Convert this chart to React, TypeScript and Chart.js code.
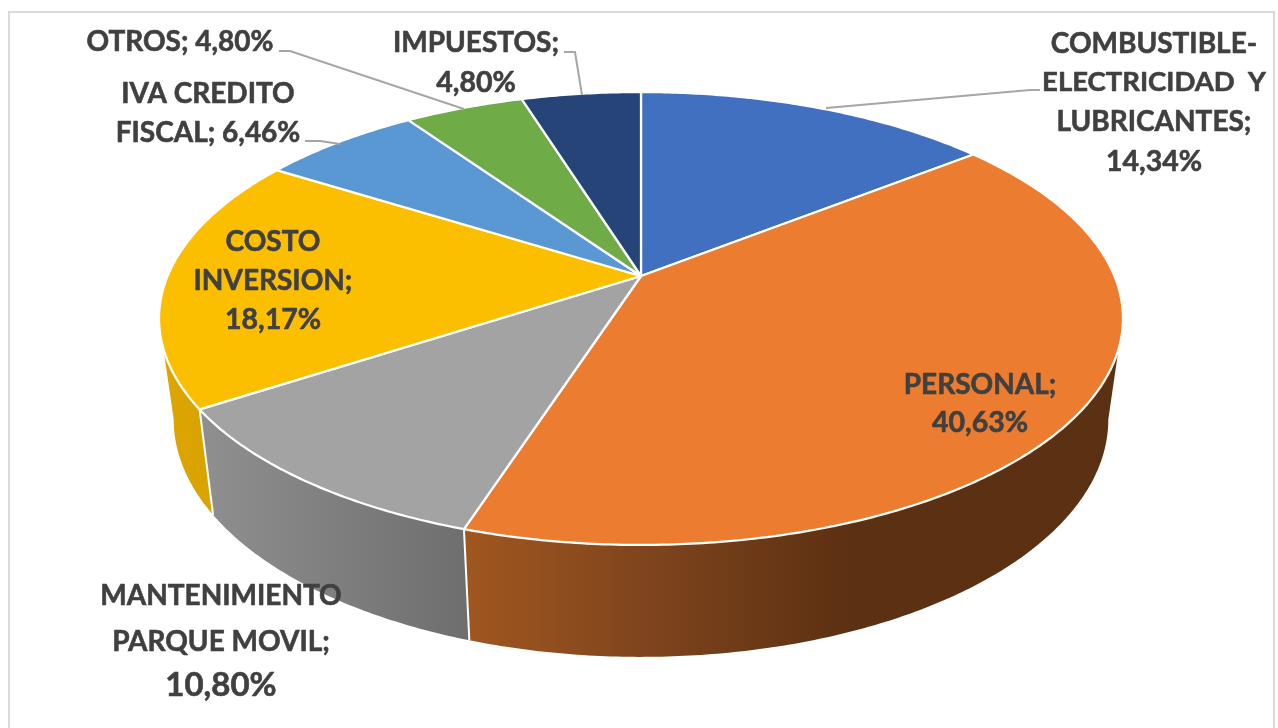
import React, { useEffect, useRef } from "react";
import { Chart, registerables } from "chart.js";

Chart.register(...registerables);

const categories = [
  "COMBUSTIBLE-ELECTRICIDAD  Y LUBRICANTES",
  "PERSONAL",
  "MANTENIMIENTO PARQUE MOVIL",
  "COSTO INVERSION",
  "IVA CREDITO FISCAL",
  "OTROS",
  "IMPUESTOS",
];
const shares = [14.34, 40.63, 10.8, 18.17, 6.46, 4.8, 4.8];
const topColors = ["#4270c0", "#eb7c30", "#a3a3a3", "#fcbf00", "#5a98d4", "#6fab46", "#264478"];

const labelLines = [
  ["COMBUSTIBLE-", "ELECTRICIDAD  Y", "LUBRICANTES;", "14,34%"],
  ["PERSONAL;", "40,63%"],
  ["MANTENIMIENTO", "PARQUE MOVIL;", "10,80%"],
  ["COSTO", "INVERSION;", "18,17%"],
  ["IVA CREDITO", "FISCAL; 6,46%"],
  ["OTROS; 4,80%"],
  ["IMPUESTOS;", "4,80%"],
];

// Layout (style only, not data)
const labelCenterX = [1154, 980, 221, 273, 208, 180, 476];
const labelLineY = [
  [43.5, 82.5, 121.5, 161.5],
  [384.5, 422.5],
  [595.5, 641.5, 685.5],
  [241.5, 280.5, 319.5],
  [93.5, 132.5],
  [41.5],
  [42.5, 82.5],
];
const labelFontSize = [
  [28, 27.5, 28, 28.5],
  [28, 28.5],
  [28, 28, 33],
  [28, 28, 28.5],
  [28, 28],
  [28],
  [28, 28.5],
];
const leaders = [
  [[1040, 90], [1030, 90], [826, 108]],
  [[564, 52], [575, 52], [582, 95]],
  [[279, 51], [290, 51], [464, 109]],
  [[305, 141], [320, 141], [340, 144]],
];
const wallStops: Record<number, [number, string][]> = {
  1: [[470, "#a0561f"], [640, "#80451d"], [850, "#5c3012"]],
  2: [[212, "#8e8e8e"], [470, "#6e6e6e"]],
  3: [[170, "#dca500"], [212, "#d9a300"]],
};

const FONT = "Lato";
const TOP = { cx: 641, cy: 276, a: 473.4, b: 218.5, k: 0.1876 };
const BOTTOM = { cx: 641, cy: 375, a: 459, b: 229, k: 0.1876 };
const WALL_FROM = (100.8 * Math.PI) / 180;
const WALL_TO = (259.2 * Math.PI) / 180;

function project(p: typeof TOP, theta: number): [number, number] {
  const u = Math.sin(theta);
  const v = -Math.cos(theta);
  const d = 1 - p.k * v;
  return [p.cx + (p.a * u) / d, p.cy + (p.b * v) / d];
}

function arcPoints(p: typeof TOP, from: number, to: number): [number, number][] {
  const n = Math.max(2, Math.ceil(Math.abs(to - from) / 0.01));
  const pts: [number, number][] = [];
  for (let i = 0; i <= n; i++) pts.push(project(p, from + ((to - from) * i) / n));
  return pts;
}

const perspectivePie = {
  id: "perspectivePie",
  beforeDraw(chart: any) {
    const { ctx } = chart;
    ctx.save();
    ctx.fillStyle = "#ffffff";
    ctx.fillRect(0, 0, chart.width, chart.height);
    ctx.strokeStyle = "#d9d9d9";
    ctx.lineWidth = 2;
    ctx.beginPath();
    ctx.moveTo(9, 740);
    ctx.lineTo(9, 12);
    ctx.lineTo(1274, 12);
    ctx.lineTo(1274, 740);
    ctx.stroke();
    ctx.restore();
  },
  beforeDatasetsDraw(chart: any) {
    const { ctx } = chart;
    const arcs = chart.getDatasetMeta(0).data;
    const colors = chart.data.datasets[0].backgroundColor;
    const angle = (a: number) => a + Math.PI / 2;
    ctx.save();

    // side walls
    arcs.forEach((arc: any, i: number) => {
      const from = Math.max(angle(arc.startAngle), WALL_FROM);
      const to = Math.min(angle(arc.endAngle), WALL_TO);
      if (to <= from || !wallStops[i]) return;
      const stops = wallStops[i];
      const x0 = stops[0][0];
      const x1 = stops[stops.length - 1][0];
      const g = ctx.createLinearGradient(x0, 0, x1, 0);
      stops.forEach(([x, c]) => g.addColorStop((x - x0) / (x1 - x0), c));
      ctx.fillStyle = g;
      ctx.beginPath();
      const pts = [...arcPoints(TOP, from, to), ...arcPoints(BOTTOM, to, from)];
      pts.forEach(([x, y], j) => (j ? ctx.lineTo(x, y) : ctx.moveTo(x, y)));
      ctx.closePath();
      ctx.fill();
    });

    // white seams between walls
    ctx.strokeStyle = "#ffffff";
    ctx.lineWidth = 2;
    arcs.forEach((arc: any) => {
      const t = angle(arc.endAngle);
      if (t <= WALL_FROM || t >= WALL_TO) return;
      const [x0, y0] = project(TOP, t);
      const [x1, y1] = project(BOTTOM, t);
      ctx.beginPath();
      ctx.moveTo(x0, y0);
      ctx.lineTo(x1, y1);
      ctx.stroke();
    });

    // top faces
    ctx.lineJoin = "round";
    arcs.forEach((arc: any, i: number) => {
      const pts = arcPoints(TOP, angle(arc.startAngle), angle(arc.endAngle));
      ctx.beginPath();
      ctx.moveTo(TOP.cx, TOP.cy);
      pts.forEach(([x, y]) => ctx.lineTo(x, y));
      ctx.closePath();
      ctx.fillStyle = colors[i];
      ctx.fill();
      ctx.strokeStyle = "#ffffff";
      ctx.lineWidth = 2.25;
      ctx.stroke();
    });
    ctx.restore();
    return false;
  },
  afterDraw(chart: any) {
    const { ctx } = chart;
    ctx.save();
    ctx.strokeStyle = "#a6a6a6";
    ctx.lineWidth = 2;
    leaders.forEach((pts) => {
      ctx.beginPath();
      pts.forEach(([x, y], j) => (j ? ctx.lineTo(x, y) : ctx.moveTo(x, y)));
      ctx.stroke();
    });
    ctx.fillStyle = "#404040";
    ctx.strokeStyle = "#404040";
    ctx.lineWidth = 0.6;
    ctx.lineJoin = "round";
    ctx.textAlign = "center";
    ctx.textBaseline = "middle";
    labelLines.forEach((lines, i) => {
      lines.forEach((line, j) => {
        ctx.font = `bold ${labelFontSize[i][j]}px ${FONT}`;
        ctx.fillText(line, labelCenterX[i], labelLineY[i][j]);
        ctx.strokeText(line, labelCenterX[i], labelLineY[i][j]);
      });
    });
    ctx.restore();
  },
};

export default function App() {
  const ref = useRef<HTMLCanvasElement | null>(null);
  useEffect(() => {
    if (!ref.current) return;
    const chart = new Chart(ref.current, {
      type: "pie",
      data: {
        labels: categories,
        datasets: [{ data: shares, backgroundColor: topColors, borderColor: "#ffffff" }],
      },
      options: {
        responsive: false,
        animation: false,
        devicePixelRatio: 1,
        plugins: { legend: { display: false }, tooltip: { enabled: false } },
      },
      plugins: [perspectivePie],
    } as any);
    return () => chart.destroy();
  }, []);
  return (
    <div style={{ position: "absolute", left: 0, top: 0, width: 1278, height: 728, overflow: "hidden", background: "#fff" }}>
      <canvas ref={ref} width={1278} height={728} style={{ display: "block" }} />
    </div>
  );
}
